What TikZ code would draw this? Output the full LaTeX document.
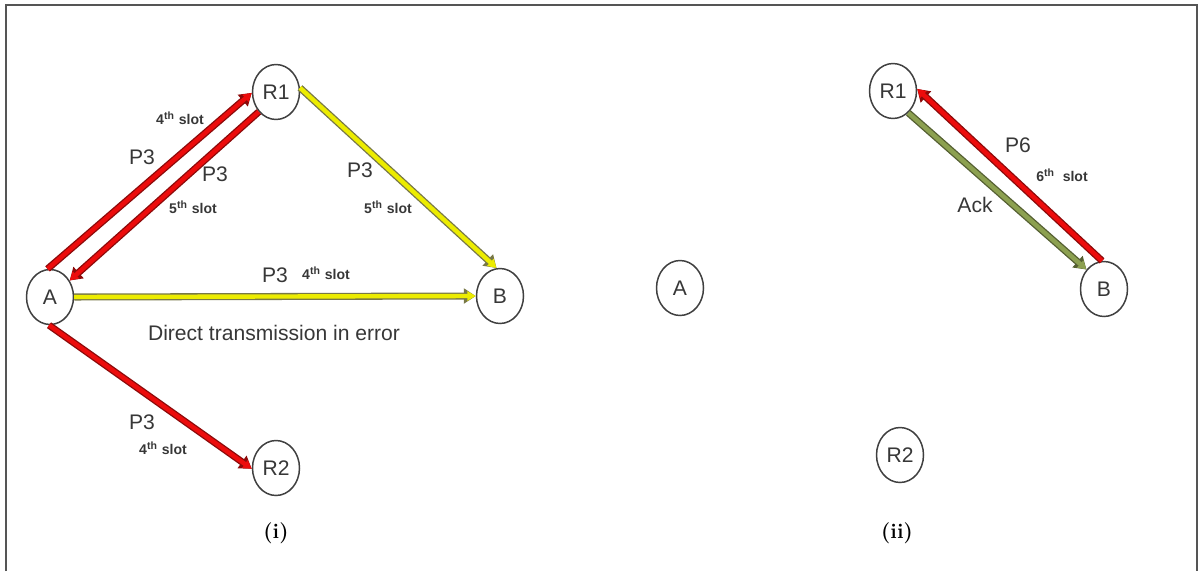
\documentclass[tikz,border=0pt]{standalone}
\usepackage{fontspec}
\setsansfont{Liberation Sans}
\usetikzlibrary{arrows.meta,shapes.geometric}
\definecolor{lnred}{RGB}{236,12,12}
\definecolor{lnredo}{RGB}{140,10,10}
\definecolor{lnyel}{RGB}{236,236,0}
\definecolor{lnyelo}{RGB}{120,120,70}
\definecolor{lngrn}{RGB}{140,160,80}
\definecolor{lngrno}{RGB}{85,95,50}
\definecolor{txtgray}{RGB}{55,55,55}
\definecolor{framegray}{RGB}{85,85,85}
\tikzset{
  station/.style={ellipse, draw=black!75, line width=0.85pt, minimum width=0.94cm, minimum height=1.10cm, inner sep=0pt,
    font=\sffamily\fontsize{12}{13}\selectfont, text=txtgray},
  outerln/.style={draw=#1, line width=4pt, -{Triangle[width=8.4pt,length=6.8pt]}},
  innerln/.style={draw=#1, line width=2.5pt, -{Triangle[width=5.2pt,length=4.8pt]}},
  biglbl/.style={font=\sffamily\fontsize{12}{14}\selectfont, text=txtgray, inner sep=0pt},
  slotlbl/.style={font=\sffamily\bfseries\fontsize{8}{9}\selectfont, text=txtgray, inner sep=0pt},
  caplbl/.style={font=\bfseries\fontsize{12}{14}\selectfont, inner sep=0pt},
}
\begin{document}
\begin{tikzpicture}[x=0.02cm,y=-0.02cm]
\useasboundingbox (0,0) rectangle (1199,571);
\draw[framegray, line width=0.9pt] (6,571) -- (6,5) -- (1197,5) -- (1197,571);

% ---------- panel (i) ----------
\node[station] (A)  at (50,297)  {A};
\node[station] (R1) at (276,92)  {R1};
\node[station] (B)  at (500,296) {B};
\node[station] (R2) at (276,468) {R2};

% A -> R1 (4th slot)
\draw[outerln=lnredo] (A.95) -- (R1.182);
\draw[innerln=lnred]  (A.95) -- (R1.182);
% R1 -> A (5th slot)
\draw[outerln=lnredo] (R1.229) -- (A.40);
\draw[innerln=lnred]  (R1.229) -- (A.40);
% R1 -> B
\draw[outerln=lnyelo] (R1.10) -- (B.97);
\draw[innerln=lnyel]  (R1.10) -- (B.97);
% A -> B
\draw[outerln=lnyelo] (A.0) -- (B.180);
\draw[innerln=lnyel]  (A.0) -- (B.180);
% A -> R2
\draw[outerln=lnredo] (A.268) -- (R2.182);
\draw[innerln=lnred]  (A.268) -- (R2.182);

\node[slotlbl] (l1) at (180,118) {4\textsuperscript{th} slot};
\node[biglbl]  (l2) at (142,157) {P3};
\node[biglbl]  (l3) at (215,174) {P3};
\node[slotlbl] (l4) at (193,207) {5\textsuperscript{th} slot};
\node[biglbl]  (l5) at (360,170) {P3};
\node[slotlbl] (l6) at (388,207) {5\textsuperscript{th} slot};
\node[biglbl]  (l7) at (275,275) {P3};
\node[slotlbl] (l8) at (326,273) {4\textsuperscript{th} slot};
\node[biglbl]  (l9) at (274,333) {Direct transmission in error};
\node[biglbl]  (l10) at (142,422) {P3};
\node[slotlbl] (l11) at (163,448) {4\textsuperscript{th} slot};

\node[caplbl] (c1) at (276,533) {(i)};

% ---------- panel (ii) ----------
\node[station] (A2)  at (680,288)  {A};
\node[station] (R12) at (893,91)   {R1};
\node[station] (B2)  at (1104,289) {B};
\node[station] (R22) at (900,455)  {R2};

% B -> R1 (P6)
\draw[outerln=lnredo] (B2.94) -- (R12.5);
\draw[innerln=lnred]  (B2.94) -- (R12.5);
% R1 -> B (Ack)
\draw[outerln=lngrno] (R12.305) -- (B2.132);
\draw[innerln=lngrn]  (R12.305) -- (B2.132);

\node[biglbl]  (m1) at (1018,145) {P6};
\node[slotlbl] (m2) at (1062,175) {6\textsuperscript{th}\ \ slot};
\node[biglbl]  (m3) at (975,205) {Ack};

\node[caplbl] (c2) at (897,533) {(ii)};
\end{tikzpicture}
\end{document}
